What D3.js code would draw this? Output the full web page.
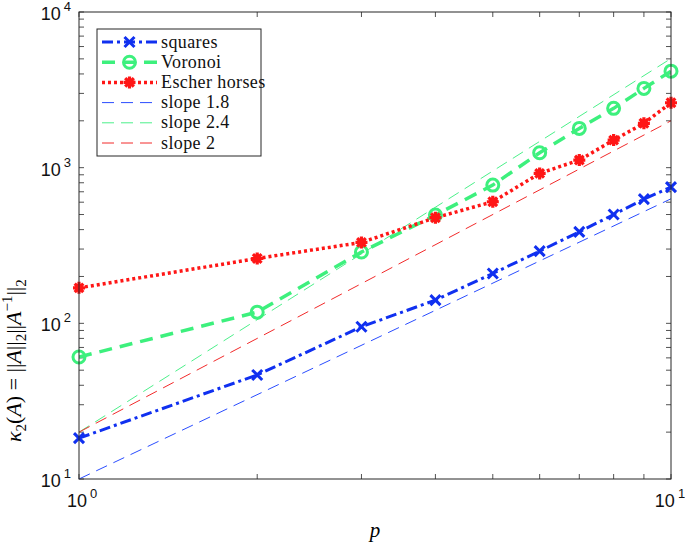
<!DOCTYPE html>
<html>
<head>
<meta charset="utf-8">
<script src="https://cdn.jsdelivr.net/npm/d3@7"></script>
<style>
  body { margin: 0; background: #fff; }
  svg { display: block; }
</style>
</head>
<body>
<div id="chart-area"></div>
<script>
// data
const pValues = [1, 2, 3, 4, 5, 6, 7, 8, 9, 10]
const squares = [18.3, 46.6, 95, 141, 209, 291, 387, 500, 628, 750]
const voronoi = [60.8, 118, 287, 496, 773, 1247, 1787, 2404, 3230, 4170]
const escher = [169, 261, 331, 477, 604, 919, 1119, 1503, 1928, 2612]

// reference slope lines, endpoints at p = 1 and p = 10
const slopeP = [1, 10]
const slope18 = [10, 631]
const slope24 = [20, 5024]
const slope2 = [20, 2000]

const xTickValues = [1, 10]
const yTickValues = [10, 100, 1000, 10000]

// sizes
const W = 685, H = 546
const MARGIN = { LEFT: 79, RIGHT: 14, TOP: 12, BOTTOM: 67 }
const WIDTH = W - MARGIN.LEFT - MARGIN.RIGHT
const HEIGHT = H - MARGIN.TOP - MARGIN.BOTTOM

const svg = d3.select("#chart-area").append("svg")
  .attr("width", W)
  .attr("height", H)

const g = svg.append("g")
  .attr("transform", `translate(${MARGIN.LEFT}, ${MARGIN.TOP})`)

const x = d3.scaleLog().domain([1, 10]).range([0, WIDTH])
const y = d3.scaleLog().domain([10, 10000]).range([HEIGHT, 0])

const axisColor = "#262626"
const TICK = 5

// minor + major ticks on all four sides (box on)
const xTicks = x.ticks()
const yTicks = y.ticks()

const tickG = g.append("g").attr("stroke", axisColor).attr("stroke-width", 0.8)
xTicks.forEach(t => {
  tickG.append("line").attr("x1", x(t)).attr("x2", x(t)).attr("y1", HEIGHT).attr("y2", HEIGHT - TICK)
  tickG.append("line").attr("x1", x(t)).attr("x2", x(t)).attr("y1", 0).attr("y2", TICK)
})
yTicks.forEach(t => {
  tickG.append("line").attr("x1", 0).attr("x2", TICK).attr("y1", y(t)).attr("y2", y(t))
  tickG.append("line").attr("x1", WIDTH).attr("x2", WIDTH - TICK).attr("y1", y(t)).attr("y2", y(t))
})

// clip for the data
svg.append("defs").append("clipPath").attr("id", "clip")
  .append("rect").attr("width", WIDTH).attr("height", HEIGHT)

const plot = g.append("g").attr("clip-path", "url(#clip)")

const line = d3.line().x(d => x(d[0])).y(d => y(d[1]))

const slopes = [
  { vals: slope18, color: "#2a4dff", label: "slope 1.8" },
  { vals: slope24, color: "#4cf08a", label: "slope 2.4" },
  { vals: slope2, color: "#f22a2a", label: "slope 2" }
]

slopes.forEach(s => {
  plot.append("path")
    .attr("d", line(d3.zip(slopeP, s.vals)))
    .attr("fill", "none")
    .attr("stroke", s.color)
    .attr("stroke-width", 1)
    .attr("stroke-dasharray", "12,7")
})

// marker shapes
function crossPath(r) {
  return `M${-r},${-r}L${r},${r}M${-r},${r}L${r},${-r}`
}
function starPath(r) {
  const d = r * 0.72
  return `M${-r},0L${r},0M0,${-r}L0,${r}M${-d},${-d}L${d},${d}M${-d},${d}L${d},${-d}`
}

const series = [
  { vals: squares, color: "#1030f0", dash: "11,4,3,4", width: 3, marker: "x", label: "squares" },
  { vals: voronoi, color: "#3df07d", dash: "13,8", width: 3.5, marker: "o", label: "Voronoi" },
  { vals: escher, color: "#ff1616", dash: "3,3", width: 3.5, marker: "*", label: "Escher horses" }
]

function drawMarker(sel, s, cx, cy) {
  if (s.marker === "x") {
    sel.append("path").attr("d", crossPath(5))
      .attr("transform", `translate(${cx},${cy})`)
      .attr("stroke", s.color).attr("stroke-width", 3).attr("fill", "none")
  } else if (s.marker === "o") {
    sel.append("circle").attr("cx", cx).attr("cy", cy).attr("r", 6)
      .attr("stroke", s.color).attr("stroke-width", 3).attr("fill", "none")
  } else {
    sel.append("path").attr("d", starPath(6))
      .attr("transform", `translate(${cx},${cy})`)
      .attr("stroke", s.color).attr("stroke-width", 3.2).attr("fill", "none")
    sel.append("circle").attr("cx", cx).attr("cy", cy).attr("r", 3.5).attr("fill", s.color)
  }
}

const markersG = g.append("g")
series.forEach(s => {
  const pts = d3.zip(pValues, s.vals)
  plot.append("path")
    .attr("d", line(pts))
    .attr("fill", "none")
    .attr("stroke", s.color)
    .attr("stroke-width", s.width)
    .attr("stroke-dasharray", s.dash)
  pts.forEach(d => drawMarker(markersG, s, x(d[0]), y(d[1])))
})

// box
g.append("rect")
  .attr("width", WIDTH).attr("height", HEIGHT)
  .attr("fill", "none").attr("stroke", axisColor).attr("stroke-width", 1)

// tick labels: 10 with superscript exponent
const labelFont = "'Liberation Sans', Arial, sans-serif"
yTickValues.forEach(v => {
  const t = g.append("text")
    .attr("x", -8).attr("y", y(v) + 8)
    .attr("text-anchor", "end")
    .attr("font-family", labelFont).attr("font-size", 18).attr("fill", "#111")
  t.append("tspan").text("10")
  t.append("tspan").attr("dx", 3).attr("dy", -9).attr("font-size", 13).text(Math.round(Math.log10(v)))
})
xTickValues.forEach((v, i) => {
  const t = g.append("text")
    .attr("x", x(v) + (i === 0 ? 3 : -1)).attr("y", HEIGHT + 28)
    .attr("text-anchor", "middle")
    .attr("font-family", labelFont).attr("font-size", 18).attr("fill", "#111")
  t.append("tspan").text("10")
  t.append("tspan").attr("dx", 3).attr("dy", -9).attr("font-size", 13).text(Math.round(Math.log10(v)))
})

// axis labels
const mathFont = "'Liberation Serif', 'DejaVu Serif', serif"
g.append("text")
  .attr("x", WIDTH / 2).attr("y", HEIGHT + 58)
  .attr("text-anchor", "middle")
  .attr("font-family", mathFont).attr("font-style", "italic").attr("font-size", 21)
  .text("p")

const yl = svg.append("text")
  .attr("transform", "translate(21, 442) rotate(-90)")
  .attr("text-anchor", "start")
  .attr("font-family", mathFont).attr("font-size", 22)
yl.append("tspan").attr("font-style", "italic").text("κ")
yl.append("tspan").attr("dy", 5).attr("font-size", 15).text("2")
yl.append("tspan").attr("dy", -5).text("(")
yl.append("tspan").attr("font-style", "italic").text("A")
yl.append("tspan").text(") = ||")
yl.append("tspan").attr("font-style", "italic").text("A")
yl.append("tspan").text("||")
yl.append("tspan").attr("dy", 5).attr("font-size", 15).text("2")
yl.append("tspan").attr("dy", -5).text("||")
yl.append("tspan").attr("font-style", "italic").text("A")
yl.append("tspan").attr("dy", -9).attr("font-size", 15).text("−1")
yl.append("tspan").attr("dy", 9).text("||")
yl.append("tspan").attr("dy", 5).attr("font-size", 15).text("2")

// legend
const legend = g.append("g").attr("transform", "translate(18, 17)")
legend.append("rect")
  .attr("width", 164).attr("height", 127)
  .attr("fill", "#fff").attr("stroke", axisColor).attr("stroke-width", 1)

const legendItems = series.concat(slopes.map(s => ({ color: s.color, dash: "12,7", width: 1, marker: null, label: s.label })))
legendItems.forEach((s, i) => {
  const ly = 13 + i * 20.2
  const row = legend.append("g")
  row.append("line")
    .attr("x1", 5).attr("x2", 60).attr("y1", ly).attr("y2", ly)
    .attr("stroke", s.color).attr("stroke-width", s.width)
    .attr("stroke-dasharray", s.dash)
  if (s.marker) drawMarker(row, s, 32.5, ly)
  row.append("text")
    .attr("x", 64).attr("y", ly + 5.5)
    .attr("font-family", mathFont).attr("font-size", 18).attr("letter-spacing", 0.4).attr("fill", "#111")
    .text(s.label)
})
</script>
</body>
</html>
